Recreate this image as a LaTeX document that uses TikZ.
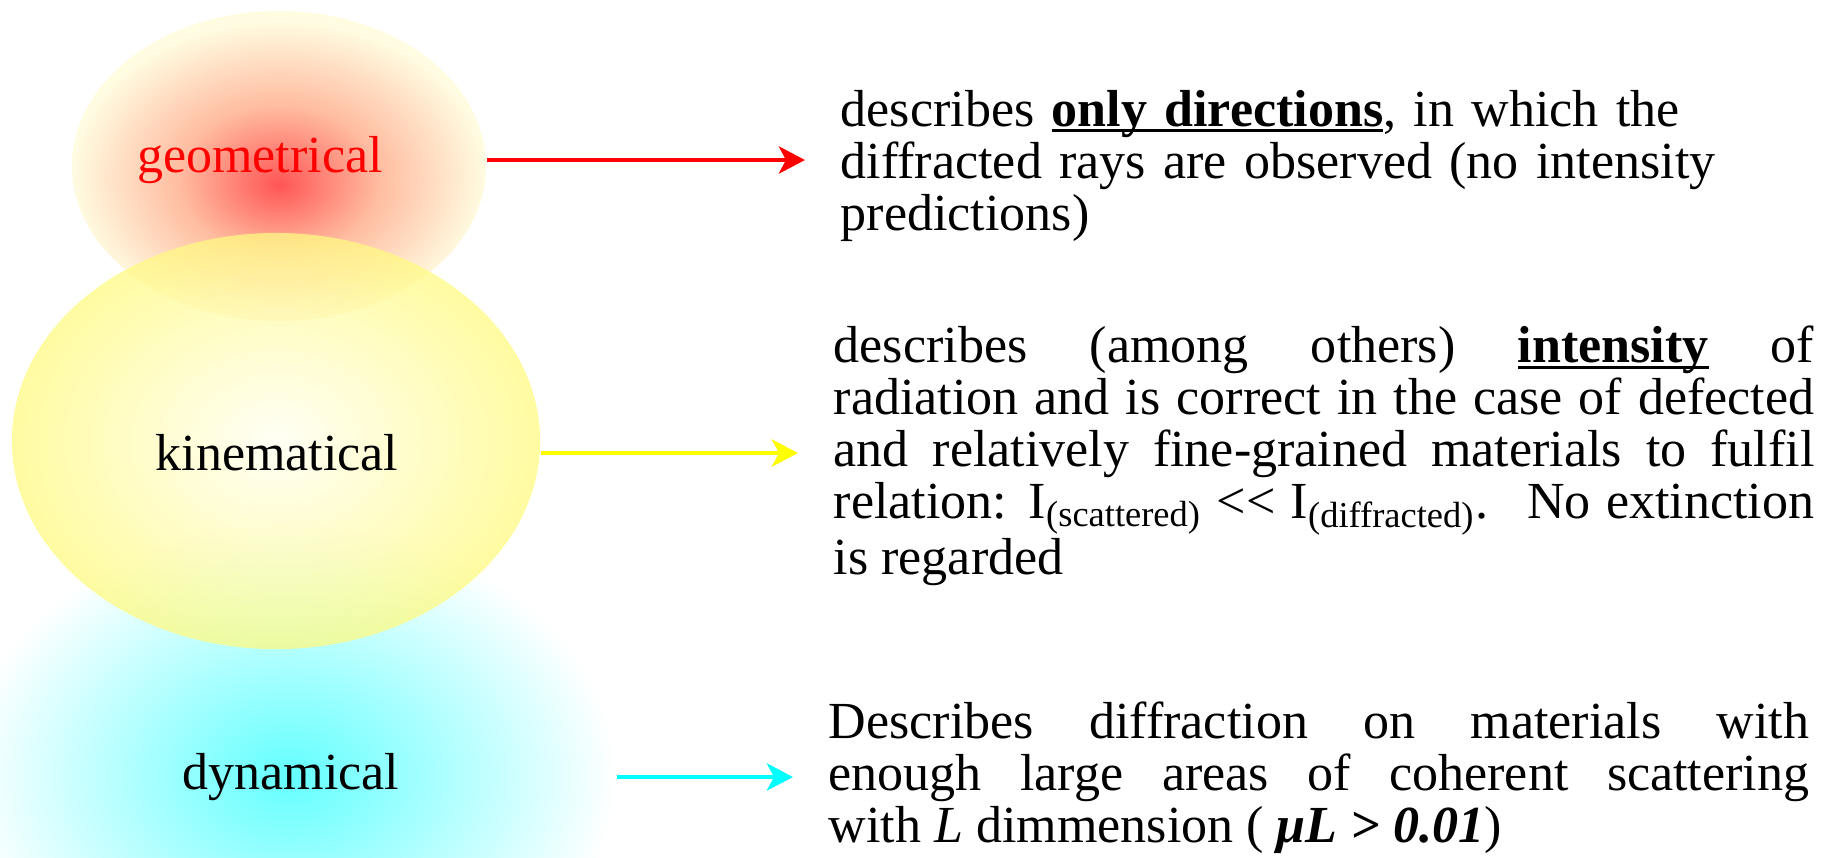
\documentclass[tikz,border=0pt]{standalone}
\usepackage{fontspec}
\setmainfont{Liberation Serif}
\usetikzlibrary{shapes.geometric, arrows.meta, positioning}
\definecolor{geocore}{RGB}{255,85,85}
\definecolor{geomid}{RGB}{255,188,160}
\definecolor{geoedge}{RGB}{255,252,226}
\definecolor{kincore}{RGB}{255,255,242}
\definecolor{kinedge}{RGB}{255,250,130}
\definecolor{dyncore}{RGB}{100,255,255}
\definecolor{arrowyellow}{RGB}{255,255,0}
\definecolor{arrowcyan}{RGB}{0,255,255}
\pgfdeclareradialshading{geoglow}{\pgfpoint{0bp}{-3bp}}{color(0bp)=(geocore); color(12bp)=(geomid); color(25bp)=(geoedge); color(50bp)=(geoedge)}
\newsavebox\ulbox
\newcommand{\ulword}[1]{\sbox\ulbox{#1}\rlap{\rule[-0.11em]{\wd\ulbox}{0.055em}}\usebox\ulbox}

\begin{document}
\begin{tikzpicture}[x=0.01cm, y=-0.01cm, >={Stealth[length=0.26cm, width=0.27cm, inset=0.07cm]},
  blob/.style={ellipse, inner sep=0pt},
  tag/.style={inner sep=0pt, font=\fontsize{14.8}{17}\selectfont},
  desc/.style={anchor=west, inner sep=0pt, text width=9.8cm, font=\fontsize{14.8}{14.8}\selectfont},
  ray/.style={->, line width=1.4pt, shorten >=0.35cm}]
\useasboundingbox (0,0) rectangle (1822,857);
\node[blob, minimum width=6.52cm, minimum height=5cm, inner color=dyncore, outer color=white] (dyn) at (290,776) {};
\node[blob, minimum width=4.14cm, minimum height=3.1cm, shading=geoglow] (geo) at (279,166) {};
\node[blob, minimum width=5.28cm, minimum height=4.16cm, inner color=kincore, outer color=kinedge, fill opacity=0.75] (kin) at (276,441) {};
\node[tag, text=red] (geotag) at (260,160) {geometrical};
\node[tag] (kintag) at (277,453) {kinematical};
\node[tag] (dyntag) at (291,777) {dynamical};
\node[desc, align=left] (d1) at (840,166) {describes \textbf{\ulword{only directions}}, in which the\\diffracted rays are observed (no intensity\\predictions)};
\node[desc, align=justify] (d2) at (833,456) {describes (among others) \textbf{\ulword{intensity}} of\linebreak radiation and is correct in the case of defected\linebreak and relatively fine-grained materials to fulfil\linebreak relation: I\textsubscript{(scattered)} <\kern0pt< I\textsubscript{(diffracted)}.~ No extinction\linebreak is regarded};
\node[desc, align=justify] (d3) at (828,778) {Describes diffraction on materials with\linebreak enough large areas of coherent scattering\linebreak with \textit{L} dimmension ( \textbf{\textit{μL > 0.01}})};
\draw[ray, red] (geo.east |- geotag) -- (geotag -| d1.west);
\draw[ray, arrowyellow] (kin.east |- kintag) -- (kintag -| d2.west);
\draw[ray, arrowcyan] (dyn.east |- dyntag) -- (dyntag -| d3.west);
\end{tikzpicture}
\end{document}
